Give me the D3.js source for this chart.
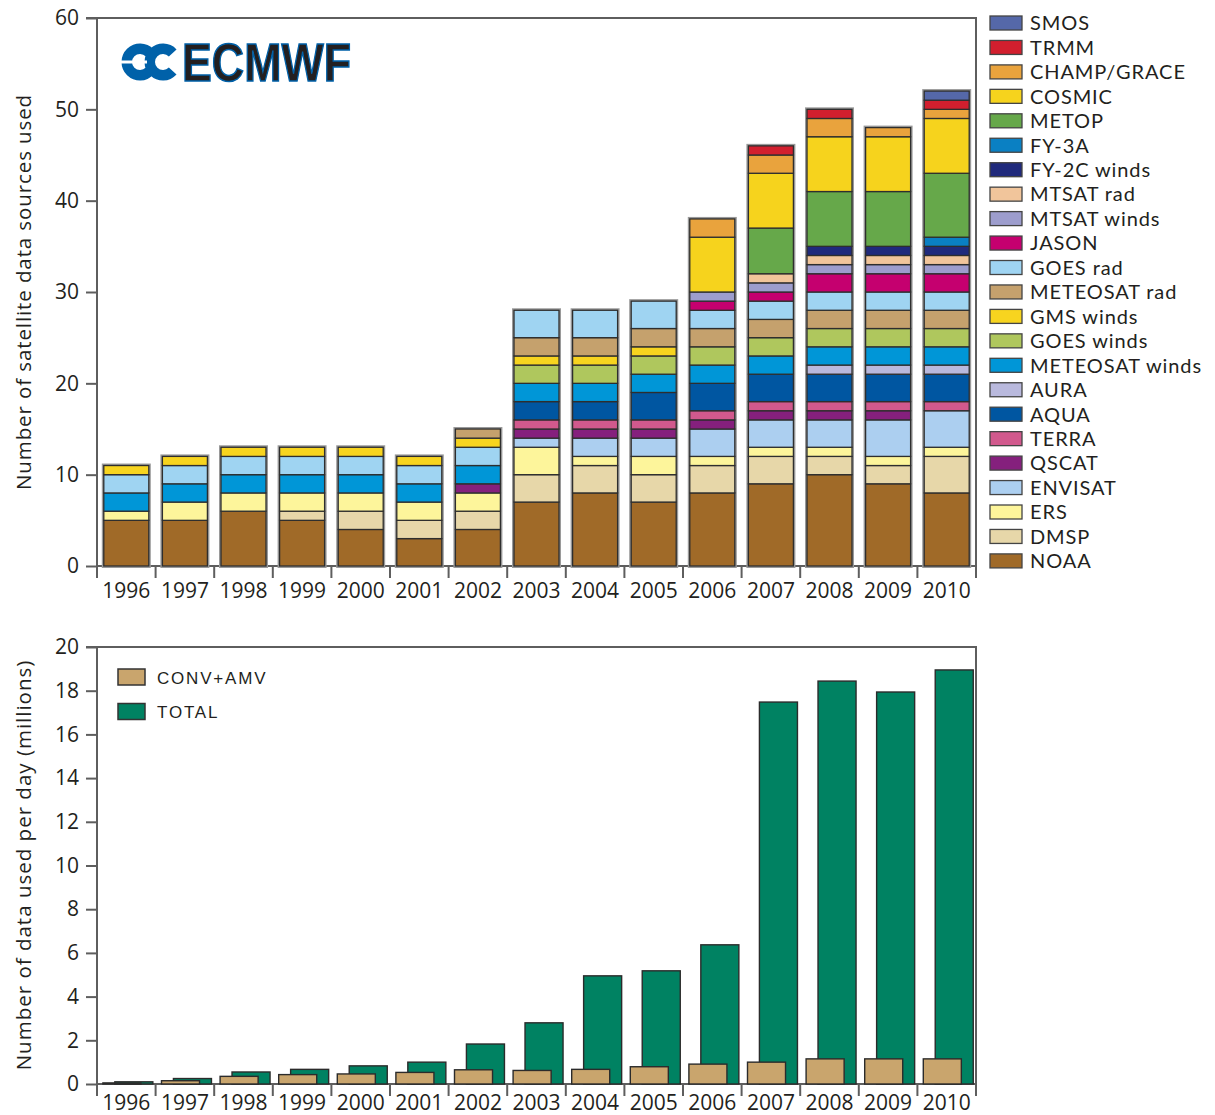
<!DOCTYPE html>
<html><head><meta charset="utf-8">
<script src="https://cdn.jsdelivr.net/npm/d3@7"></script>
<style>
body{margin:0;background:#fff;}
svg{display:block;}
text{font-family:'Open Sans',sans-serif;fill:#231f20;}
</style></head>
<body>
<svg id="chart" width="1215" height="1115"></svg>
<script>
// ---------- DATA ----------
const years = [1996,1997,1998,1999,2000,2001,2002,2003,2004,2005,2006,2007,2008,2009,2010];

// Top chart: number of satellite data sources used, per series (1996..2010)
const NOAA          = [5,5,6,5,4,3,4,7,8,7,8,9,10,9,8];
const DMSP          = [0,0,0,1,2,2,2,3,3,3,3,3,2,2,4];
const ERS           = [1,2,2,2,2,2,2,3,1,2,1,1,1,1,1];
const ENVISAT       = [0,0,0,0,0,0,0,1,2,2,3,3,3,4,4];
const QSCAT         = [0,0,0,0,0,0,1,1,1,1,1,1,1,1,0];
const TERRA         = [0,0,0,0,0,0,0,1,1,1,1,1,1,1,1];
const AQUA          = [0,0,0,0,0,0,0,2,2,3,3,3,3,3,3];
const AURA          = [0,0,0,0,0,0,0,0,0,0,0,0,1,1,1];
const METEOSAT_winds= [2,2,2,2,2,2,2,2,2,2,2,2,2,2,2];
const GOES_winds    = [0,0,0,0,0,0,0,2,2,2,2,2,2,2,2];
const GMS_winds     = [1,1,1,1,1,1,1,1,1,1,0,0,0,0,0];
const METEOSAT_rad  = [0,0,0,0,0,0,1,2,2,2,2,2,2,2,2];
const GOES_rad      = [2,2,2,2,2,2,2,3,3,3,2,2,2,2,2];
const JASON         = [0,0,0,0,0,0,0,0,0,0,1,1,2,2,2];
const MTSAT_winds   = [0,0,0,0,0,0,0,0,0,0,1,1,1,1,1];
const MTSAT_rad     = [0,0,0,0,0,0,0,0,0,0,0,1,1,1,1];
const FY2C_winds    = [0,0,0,0,0,0,0,0,0,0,0,0,1,1,1];
const FY3A          = [0,0,0,0,0,0,0,0,0,0,0,0,0,0,1];
const METOP         = [0,0,0,0,0,0,0,0,0,0,0,5,6,6,7];
const COSMIC        = [0,0,0,0,0,0,0,0,0,0,6,6,6,6,6];
const CHAMP_GRACE   = [0,0,0,0,0,0,0,0,0,0,2,2,2,1,1];
const TRMM          = [0,0,0,0,0,0,0,0,0,0,0,1,1,0,1];
const SMOS          = [0,0,0,0,0,0,0,0,0,0,0,0,0,0,1];

// Series names (legend order, top to bottom), values and colours
const seriesNames = ["SMOS","TRMM","CHAMP/GRACE","COSMIC","METOP","FY-3A","FY-2C winds","MTSAT rad","MTSAT winds","JASON","GOES rad","METEOSAT rad","GMS winds","GOES winds","METEOSAT winds","AURA","AQUA","TERRA","QSCAT","ENVISAT","ERS","DMSP","NOAA"];
const seriesValues = [SMOS,TRMM,CHAMP_GRACE,COSMIC,METOP,FY3A,FY2C_winds,MTSAT_rad,MTSAT_winds,JASON,GOES_rad,METEOSAT_rad,GMS_winds,GOES_winds,METEOSAT_winds,AURA,AQUA,TERRA,QSCAT,ENVISAT,ERS,DMSP,NOAA];
const seriesColors = ["#5568a9","#d21f2e","#e9a33d","#f6d31d","#66a84a","#0a80c3","#202a7c","#f1c59b","#9d9dcd","#c5006f","#9fd4f2","#c5a16d","#f7d41f","#afc75d","#0096d7","#b9b9dd","#0056a1","#d1598d","#85207d","#accff0","#fdf59b","#e7d7a9","#a06a28"];

// Stacking order (bottom to top); the early years show GOES rad below GMS winds
const stackOrderLate  = ["NOAA","DMSP","ERS","ENVISAT","QSCAT","TERRA","AQUA","AURA","METEOSAT winds","GOES winds","GMS winds","METEOSAT rad","GOES rad","JASON","MTSAT winds","MTSAT rad","FY-2C winds","FY-3A","METOP","COSMIC","CHAMP/GRACE","TRMM","SMOS"];
const stackOrderEarly = ["NOAA","DMSP","ERS","ENVISAT","QSCAT","TERRA","AQUA","AURA","METEOSAT winds","GOES winds","GOES rad","GMS winds","METEOSAT rad","JASON","MTSAT winds","MTSAT rad","FY-2C winds","FY-3A","METOP","COSMIC","CHAMP/GRACE","TRMM","SMOS"];
const lateOrderFrom = 2003;

const topTicks = [0,10,20,30,40,50,60];

// Bottom chart: number of data used per day (millions)
const convAmv = [0.05,0.15,0.35,0.43,0.46,0.53,0.65,0.62,0.67,0.79,0.91,1.0,1.15,1.15,1.15];
const total   = [0.10,0.25,0.55,0.67,0.83,1.0,1.83,2.8,4.95,5.18,6.37,17.48,18.44,17.94,18.95];
const bottomTicks = [0,2,4,6,8,10,12,14,16,18,20];
const bottomLegend = ["CONV+AMV","TOTAL"];
const bottomColors = ["#c9a56d","#008262"];

// ---------- DRAW ----------
const svg = d3.select("#chart");
const L = 97, R = 976;
const axisColor = "#5e5e5e";

const x = d3.scaleBand().domain(years).range([L, R]).paddingInner(0.232).paddingOuter(0.116);
const gap = x.step() * 0.232;

function frame(y, top, bottom, ticks, tickFmt, labelY) {
  const g = svg.append("g");
  const ax = d3.axisLeft(y).tickValues(ticks).tickSize(11).tickPadding(7).tickFormat(tickFmt);
  const ga = svg.append("g").attr("transform", `translate(${L},0)`).call(ax);
  ga.select(".domain").remove();
  ga.selectAll(".tick line").attr("stroke", axisColor).attr("stroke-width", 2);
  ga.selectAll(".tick text").style("font-size", "21px").style("font-family", "'Open Sans',sans-serif").attr("fill", "#231f20");
  g.append("line").attr("x1", L - 11).attr("x2", R + 1).attr("y1", top).attr("y2", top).attr("stroke", axisColor).attr("stroke-width", 2);
  g.append("line").attr("x1", R).attr("x2", R).attr("y1", top).attr("y2", bottom).attr("stroke", axisColor).attr("stroke-width", 2);
  g.append("line").attr("x1", L).attr("x2", L).attr("y1", top).attr("y2", bottom + 12).attr("stroke", axisColor).attr("stroke-width", 2);
  g.append("line").attr("x1", L).attr("x2", R + 1).attr("y1", bottom).attr("y2", bottom).attr("stroke", axisColor).attr("stroke-width", 2);
  const seps = years.map(d => x(d) - gap / 2).concat([x(years[years.length - 1]) + x.bandwidth() + gap / 2]);
  g.selectAll(null).data(seps).enter().append("line")
    .attr("x1", d => d).attr("x2", d => d).attr("y1", bottom).attr("y2", bottom + 12)
    .attr("stroke", axisColor).attr("stroke-width", 2);
  const xa = d3.axisBottom(x).tickSize(0).tickPadding(0);
  const gx = svg.append("g").attr("transform", `translate(0,${labelY})`).call(xa);
  gx.select(".domain").remove();
  gx.selectAll(".tick text").style("font-size", "21px").style("font-family", "'Open Sans',sans-serif").attr("fill", "#231f20").attr("dy", "0");
  return g;
}

// ----- top chart -----
const yTop = d3.scaleLinear().domain([0, 60]).range([566, 18]);

// logo
const logo = svg.append("g").attr("fill", "#0061a9");
const arc = d3.arc().innerRadius(8).outerRadius(18.5).startAngle(Math.PI / 2 + 0.75).endAngle(Math.PI / 2 + 2 * Math.PI - 0.75);
logo.append("path").attr("d", arc()).attr("transform", "translate(140,62)");
logo.append("path").attr("d", arc()).attr("transform", "translate(163,62)");
logo.append("rect").attr("x", 117).attr("y", 60.5).attr("width", 30).attr("height", 3).attr("fill", "#fff");
logo.append("text").attr("x", 182).attr("y", 81).text("ECMWF")
  .style("font-family", "'Liberation Sans',Arial,sans-serif").style("font-weight", "bold").style("font-size", "53px")
  .attr("fill", "#0061a9").attr("stroke", "#0061a9").attr("stroke-width", 1.5)
  .attr("textLength", 169).attr("lengthAdjust", "spacingAndGlyphs");

frame(yTop, 18, 566, topTicks, d3.format("d"), 598);

// stacked bars
const valueOf = {}; const colorOf = {};
seriesNames.forEach((n, i) => { valueOf[n] = seriesValues[i]; colorOf[n] = seriesColors[i]; });
const segments = [];
const totals = [];
years.forEach((yr, i) => {
  const order = yr >= lateOrderFrom ? stackOrderLate : stackOrderEarly;
  let acc = 0;
  order.forEach(n => {
    const v = valueOf[n][i];
    if (v > 0) { segments.push({ year: yr, name: n, y0: acc, y1: acc + v }); acc += v; }
  });
  totals.push({ year: yr, total: acc });
});
const bars = svg.append("g");
bars.selectAll(".outline").data(totals).enter().append("rect")
  .attr("x", d => x(d.year)).attr("width", x.bandwidth())
  .attr("y", d => yTop(d.total)).attr("height", d => yTop(0) - yTop(d.total))
  .attr("fill", "none").attr("stroke", "#9a9a9a").attr("stroke-width", 4);
bars.selectAll(".seg").data(segments).enter().append("rect")
  .attr("x", d => x(d.year)).attr("width", x.bandwidth())
  .attr("y", d => yTop(d.y1)).attr("height", d => yTop(d.y0) - yTop(d.y1))
  .attr("fill", d => colorOf[d.name]).attr("stroke", "#2e2e2e").attr("stroke-width", 1.3);

svg.append("text").attr("transform", "translate(31,292) rotate(-90)").attr("text-anchor", "middle")
  .style("font-size", "20.5px").style("letter-spacing", "0.9px").text("Number of satellite data sources used");

// legend
const lg = svg.append("g");
seriesNames.forEach((n, i) => {
  const cy = 23 + i * 24.45;
  lg.append("rect").attr("x", 990).attr("y", cy - 7).attr("width", 32).attr("height", 14)
    .attr("fill", seriesColors[i]).attr("stroke", "#444").attr("stroke-width", 1.3);
  lg.append("text").attr("x", 1030).attr("y", cy + 7.3)
    .style("font-family", "Lato,'Open Sans',sans-serif").style("font-size", "20px").style("letter-spacing", "0.9px").text(n);
});

// ----- bottom chart -----
const yBot = d3.scaleLinear().domain([0, 20]).range([1084, 647]);
frame(yBot, 647, 1084, bottomTicks, d3.format("d"), 1110);

const bw = x.bandwidth();
const bb = svg.append("g");
const totalData = years.map((yr, i) => ({ year: yr, v: total[i] }));
const convData = years.map((yr, i) => ({ year: yr, v: convAmv[i] }));
bb.selectAll(".tot").data(totalData).enter().append("rect")
  .attr("x", d => x(d.year) + 0.245 * bw).attr("width", 0.845 * bw)
  .attr("y", d => yBot(d.v)).attr("height", d => yBot(0) - yBot(d.v))
  .attr("fill", bottomColors[1]).attr("stroke", "#2b2b2b").attr("stroke-width", 1.4);
bb.selectAll(".conv").data(convData).enter().append("rect")
  .attr("x", d => x(d.year) - 0.02 * bw).attr("width", 0.845 * bw)
  .attr("y", d => yBot(d.v)).attr("height", d => yBot(0) - yBot(d.v))
  .attr("fill", bottomColors[0]).attr("stroke", "#2b2b2b").attr("stroke-width", 1.4);

svg.append("text").attr("transform", "translate(31,865) rotate(-90)").attr("text-anchor", "middle")
  .style("font-size", "20.5px").style("letter-spacing", "1px").text("Number of data used per day (millions)");

const bl = svg.append("g");
bottomLegend.forEach((n, i) => {
  const cy = 677 + i * 34.5;
  bl.append("rect").attr("x", 118).attr("y", cy - 8).attr("width", 27).attr("height", 16)
    .attr("fill", bottomColors[i]).attr("stroke", "#333").attr("stroke-width", 1.5);
  bl.append("text").attr("x", 157).attr("y", cy + 6.5).text(n)
    .style("font-family", "'Liberation Sans',Arial,sans-serif").style("font-size", "17px").style("letter-spacing", "1.8px");
});
</script>
</body></html>
